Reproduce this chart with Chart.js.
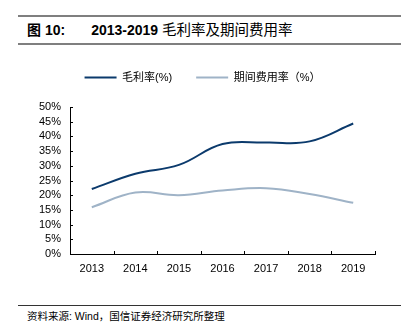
<!DOCTYPE html>
<html><head><meta charset="utf-8">
<script src="https://cdn.jsdelivr.net/npm/chart.js@4/dist/chart.umd.min.js"></script>
<style>
html,body{margin:0;padding:0;background:#fff;}
body{width:411px;height:324px;overflow:hidden;position:relative;font-family:"Liberation Sans","Noto Sans CJK SC",sans-serif;color:#000;}
.hl{position:absolute;left:18px;width:383px;height:2px;background:#7f7f7f;}
#title{position:absolute;left:27px;top:21px;font-size:14px;line-height:18px;white-space:nowrap;}
#title .b{font-weight:bold;}
#title .c{font-size:14.5px;}
#src{position:absolute;left:27px;top:309px;font-size:10.5px;line-height:14px;white-space:nowrap;}
#wrap{position:absolute;left:0;top:48px;width:411px;height:242px;}
</style></head>
<body>
<div class="hl" style="top:15px"></div>
<div id="title"><span class="b">图 10:</span><span class="b" style="margin-left:26px">2013-2019</span> <span class="c">毛利率及期间费用率</span></div>
<div class="hl" style="top:43px"></div>
<div id="wrap"><canvas id="c" width="411" height="242"></canvas></div>
<div class="hl" style="top:305px;height:1px;background:#333"></div>
<div id="src">资料来源: Wind，国信证券经济研究所整理</div>
<script>
const categories = ['2013','2014','2015','2016','2017','2018','2019'];
const grossMargin = [22.1, 27.3, 30.3, 37.4, 37.9, 38.3, 44.4];
const expenseRatio = [15.9, 20.9, 20.0, 21.6, 22.4, 20.4, 17.4];
const seriesNames = ['毛利率(%)', '期间费用率（%）'];
const yTicks = [0,5,10,15,20,25,30,35,40,45,50];

const FONT = '"Liberation Sans","Noto Sans CJK SC",sans-serif';
Chart.defaults.font.family = FONT;
Chart.defaults.font.size = 11;
Chart.defaults.color = '#000';

const legendGap = {
  id: 'legendGap',
  beforeInit(chart) {
    const lg = chart.legend;
    if (!lg) return;
    const orig = lg.fit;
    lg.fit = function () { orig.call(this); this.height += 14; };
  }
};

const inwardTicks = {
  id: 'inwardTicks',
  afterDraw(chart) {
    const ctx = chart.ctx, xs = chart.scales.x, ys = chart.scales.y;
    ctx.save();
    ctx.strokeStyle = '#000';
    ctx.lineWidth = 1;
    ctx.beginPath();
    ys.ticks.forEach((t, i) => {
      const py = Math.round(ys.getPixelForTick(i)) + 0.5;
      ctx.moveTo(ys.right, py); ctx.lineTo(ys.right + 3, py);
    });
    const n = xs.ticks.length;
    const step = (xs.right - xs.left) / n;
    for (let i = 1; i <= n; i++) {
      const px = Math.round(xs.left + step * i) + 0.5;
      ctx.moveTo(px, xs.top); ctx.lineTo(px, xs.top - 3);
    }
    ctx.stroke();
    ctx.restore();
  }
};

new Chart(document.getElementById('c'), {
  type: 'line',
  data: {
    labels: categories,
    datasets: [
      { label: seriesNames[0], data: grossMargin, borderColor: '#0b3a6c', backgroundColor: '#0b3a6c', borderWidth: 2, pointRadius: 0, tension: 0.4, fill: false },
      { label: seriesNames[1], data: expenseRatio, borderColor: '#9fb3c7', backgroundColor: '#9fb3c7', borderWidth: 2, pointRadius: 0, tension: 0.4, fill: false }
    ]
  },
  options: {
    responsive: false,
    animation: false,
    layout: { padding: { left: 30, right: 36, top: 0, bottom: 0 } },
    plugins: {
      legend: {
        position: 'top',
        labels: { usePointStyle: true, pointStyle: 'line', pointStyleWidth: 32, padding: 24, font: { size: 11 }, color: '#000' }
      },
      tooltip: { enabled: false }
    },
    scales: {
      x: {
        type: 'category',
        offset: true,
        grid: { display: false, drawTicks: false },
        border: { display: true, color: '#000', width: 1 },
        ticks: { padding: 8, font: { size: 11 }, color: '#000', maxRotation: 0, autoSkip: false },
        afterFit(s) { s.height = 36; }
      },
      y: {
        min: 0, max: 50,
        afterBuildTicks(s) { s.ticks = yTicks.map(v => ({ value: v })); },
        grid: { display: false, drawTicks: false },
        border: { display: true, color: '#000', width: 1 },
        ticks: { padding: 9, font: { size: 11 }, color: '#000', autoSkip: false, callback: v => v + '%' },
        afterFit(s) { s.width = 40; }
      }
    }
  },
  plugins: [legendGap, inwardTicks]
});
</script>
</body></html>
